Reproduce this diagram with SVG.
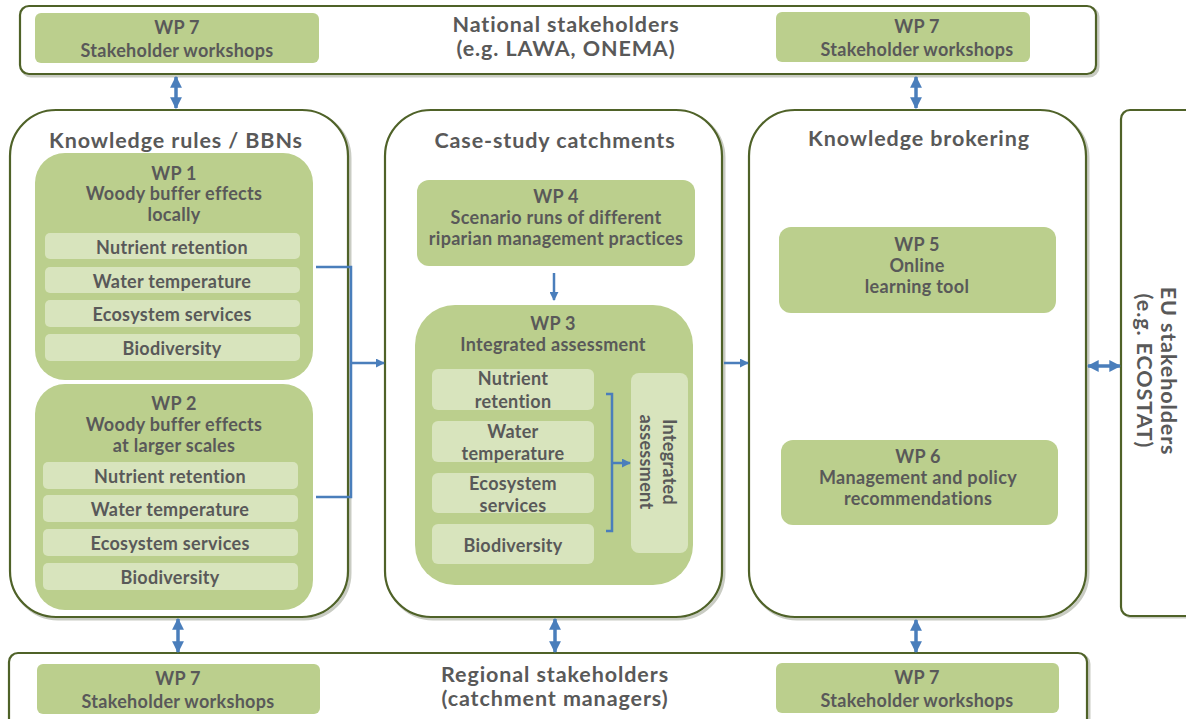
<svg xmlns="http://www.w3.org/2000/svg" width="1186" height="719" viewBox="0 0 1186 719">
<style>
  .frame { fill: #ffffff; stroke: #4f6228; stroke-width: 2.2; }
  .shadow { fill: none; stroke: #c9ccc3; stroke-width: 3; }
  .wp { fill: #bbcf8d; }
  .sub { fill: #d8e4bd; }
  text { font-family: Lato, "Open Sans", "Liberation Sans", sans-serif; font-weight: bold; fill: #595959; text-anchor: middle; dominant-baseline: central; }
  .title { font-size: 21.5px; letter-spacing: 0.9px; }
  .t { font-size: 18px; letter-spacing: 0.3px; }
  .s { font-size: 18px; letter-spacing: 0.3px; }
  .conn { fill: none; stroke: #4a7ebb; stroke-width: 2.5; }
  .dbl { fill: none; stroke: #4a7ebb; stroke-width: 3.5; }
</style>
<defs>
  <marker id="ah" viewBox="0 0 10 10" refX="9" refY="5" markerWidth="3.4" markerHeight="3.6" markerUnits="strokeWidth" orient="auto-start-reverse">
    <path d="M0,0 L10,5 L0,10 Z" fill="#4a7ebb"/>
  </marker>
  <marker id="ah2" viewBox="0 0 10 10" refX="9" refY="5" markerWidth="3.6" markerHeight="3.6" markerUnits="strokeWidth" orient="auto-start-reverse">
    <path d="M0,0 L10,5 L0,10 Z" fill="#4a7ebb"/>
  </marker>
</defs>
<rect width="1186" height="719" fill="#ffffff"/>

<!-- National stakeholders band -->
<g id="national">
  <rect class="shadow" x="22" y="8" width="1076" height="68" rx="9"/>
  <rect class="frame" x="20" y="6" width="1076" height="68" rx="9"/>
  <text class="title" x="566" y="24">National stakeholders</text>
  <text class="title" x="566" y="48">(e.g. LAWA, ONEMA)</text>
</g>
<g id="wp7-top-left">
  <rect class="wp" x="35" y="13" width="284" height="50" rx="6"/>
  <text class="t" x="177" y="27">WP 7</text>
  <text class="t" x="177" y="50">Stakeholder workshops</text>
</g>
<g id="wp7-top-right">
  <rect class="wp" x="776" y="12" width="254" height="50" rx="6"/>
  <text class="t" x="917" y="26">WP 7</text>
  <text class="t" x="917" y="49">Stakeholder workshops</text>
</g>

<!-- Knowledge rules column -->
<g id="knowledge-rules">
  <rect class="shadow" x="12" y="112" width="338" height="507" rx="46"/>
  <rect class="frame" x="10" y="110" width="338" height="507" rx="46"/>
  <text class="title" x="176" y="140">Knowledge rules / BBNs</text>
</g>
<g id="wp1">
  <rect class="wp" x="35" y="153" width="278" height="227" rx="30"/>
  <text class="t" x="174" y="173">WP 1</text>
  <text class="t" x="174" y="193">Woody buffer effects</text>
  <text class="t" x="174" y="214">locally</text>
  <rect class="sub" x="45" y="233" width="255" height="26" rx="5"/>
  <text class="s" x="172" y="247">Nutrient retention</text>
  <rect class="sub" x="45" y="267" width="255" height="26" rx="5"/>
  <text class="s" x="172" y="281">Water temperature</text>
  <rect class="sub" x="45" y="300" width="255" height="27" rx="5"/>
  <text class="s" x="172" y="314">Ecosystem services</text>
  <rect class="sub" x="45" y="334" width="255" height="27" rx="5"/>
  <text class="s" x="172" y="348">Biodiversity</text>
</g>
<g id="wp2">
  <rect class="wp" x="35" y="384" width="278" height="226" rx="30"/>
  <text class="t" x="174" y="403">WP 2</text>
  <text class="t" x="174" y="424">Woody buffer effects</text>
  <text class="t" x="174" y="445">at larger scales</text>
  <rect class="sub" x="43" y="462" width="255" height="27" rx="5"/>
  <text class="s" x="170" y="476">Nutrient retention</text>
  <rect class="sub" x="43" y="495" width="255" height="27" rx="5"/>
  <text class="s" x="170" y="509">Water temperature</text>
  <rect class="sub" x="43" y="529" width="255" height="27" rx="5"/>
  <text class="s" x="170" y="543">Ecosystem services</text>
  <rect class="sub" x="43" y="563" width="255" height="27" rx="5"/>
  <text class="s" x="170" y="577">Biodiversity</text>
</g>

<!-- Case-study catchments column -->
<g id="case-study">
  <rect class="shadow" x="387" y="112" width="337" height="507" rx="46"/>
  <rect class="frame" x="385" y="110" width="337" height="507" rx="46"/>
  <text class="title" x="555" y="140">Case-study catchments</text>
</g>
<g id="wp4">
  <rect class="wp" x="417" y="180" width="278" height="86" rx="12"/>
  <text class="t" x="556" y="196">WP 4</text>
  <text class="t" x="556" y="217">Scenario runs of different</text>
  <text class="t" x="556" y="238">riparian management practices</text>
</g>
<g id="wp3">
  <rect class="wp" x="415" y="305" width="278" height="280" rx="40"/>
  <text class="t" x="553" y="323">WP 3</text>
  <text class="t" x="553" y="344">Integrated assessment</text>
  <rect class="sub" x="432" y="369" width="162" height="41" rx="6"/>
  <text class="s" x="513" y="378">Nutrient</text>
  <text class="s" x="513" y="401">retention</text>
  <rect class="sub" x="432" y="421" width="162" height="41" rx="6"/>
  <text class="s" x="513" y="431">Water</text>
  <text class="s" x="513" y="453">temperature</text>
  <rect class="sub" x="432" y="473" width="162" height="40" rx="6"/>
  <text class="s" x="513" y="483">Ecosystem</text>
  <text class="s" x="513" y="505">services</text>
  <rect class="sub" x="432" y="524" width="162" height="40" rx="6"/>
  <text class="s" x="513" y="545">Biodiversity</text>
  <rect class="sub" x="631" y="373" width="57" height="180" rx="8"/>
  <g transform="translate(659,462) rotate(90)">
    <text class="s" x="0" y="-11">Integrated</text>
    <text class="s" x="0" y="12">assessment</text>
  </g>
</g>

<!-- Knowledge brokering column -->
<g id="knowledge-brokering">
  <rect class="shadow" x="751" y="112" width="337" height="507" rx="46"/>
  <rect class="frame" x="749" y="110" width="337" height="507" rx="46"/>
  <text class="title" x="919" y="138">Knowledge brokering</text>
</g>
<g id="wp5">
  <rect class="wp" x="779" y="227" width="277" height="86" rx="12"/>
  <text class="t" x="917" y="244">WP 5</text>
  <text class="t" x="917" y="265">Online</text>
  <text class="t" x="917" y="286">learning tool</text>
</g>
<g id="wp6">
  <rect class="wp" x="781" y="440" width="277" height="85" rx="12"/>
  <text class="t" x="918" y="456">WP 6</text>
  <text class="t" x="918" y="477">Management and policy</text>
  <text class="t" x="918" y="498">recommendations</text>
</g>

<!-- EU stakeholders -->
<g id="eu-stakeholders">
  <rect class="shadow" x="1123" y="112" width="80" height="505" rx="9"/>
  <rect class="frame" x="1121" y="110" width="80" height="506" rx="9"/>
  <g transform="translate(1157,371) rotate(90)">
    <text class="title" x="0" y="-12">EU stakeholders</text>
    <text class="title" x="0" y="12">(e.g. ECOSTAT)</text>
  </g>
</g>

<!-- Regional stakeholders band -->
<g id="regional">
  <rect class="shadow" x="11" y="655" width="1078" height="80" rx="9"/>
  <rect class="frame" x="9" y="653" width="1078" height="80" rx="9"/>
  <text class="title" x="555" y="674">Regional stakeholders</text>
  <text class="title" x="555" y="698">(catchment managers)</text>
</g>
<g id="wp7-bottom-left">
  <rect class="wp" x="37" y="664" width="283" height="50" rx="6"/>
  <text class="t" x="178" y="678">WP 7</text>
  <text class="t" x="178" y="701">Stakeholder workshops</text>
</g>
<g id="wp7-bottom-right">
  <rect class="wp" x="776" y="663" width="283" height="50" rx="6"/>
  <text class="t" x="917" y="677">WP 7</text>
  <text class="t" x="917" y="700">Stakeholder workshops</text>
</g>

<!-- Connectors -->
<g id="connectors">
  <path class="dbl" d="M176,77 L176,108" marker-start="url(#ah)" marker-end="url(#ah)"/>
  <path class="dbl" d="M916,77 L916,108" marker-start="url(#ah)" marker-end="url(#ah)"/>
  <path class="dbl" d="M178,619 L178,652" marker-start="url(#ah)" marker-end="url(#ah)"/>
  <path class="dbl" d="M555,619 L555,652" marker-start="url(#ah)" marker-end="url(#ah)"/>
  <path class="dbl" d="M916,620 L916,652" marker-start="url(#ah)" marker-end="url(#ah)"/>
  <path class="dbl" d="M1088,366 L1120,366" marker-start="url(#ah)" marker-end="url(#ah)"/>
  <path class="conn" d="M316,267 L351,267 L351,497 L316,497"/>
  <path class="conn" d="M351,363 L384,363" marker-end="url(#ah2)"/>
  <path class="conn" d="M724,363 L748,363" marker-end="url(#ah2)"/>
  <path class="conn" d="M554,273 L554,300" marker-end="url(#ah2)"/>
  <path class="conn" d="M606,394 L612,394 L612,531 L606,531"/>
  <path class="conn" d="M612,463 L630,463" marker-end="url(#ah2)"/>
</g>
</svg>
